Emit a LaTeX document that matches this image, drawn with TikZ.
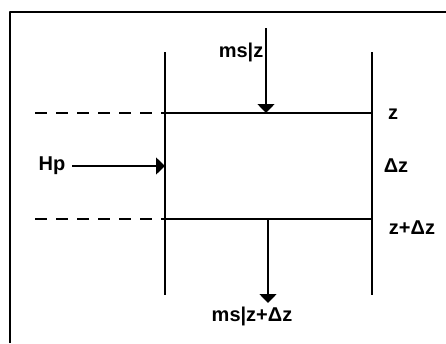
\documentclass[tikz,border=0pt]{standalone}
\usepackage{fontspec}
\setmainfont{Liberation Sans}
\usetikzlibrary{arrows.meta}
\begin{document}
\begin{tikzpicture}[x=1pt, y=-1pt, line width=1.6pt, line join=round,
  font=\fontsize{20}{22}\selectfont\bfseries, >={Triangle[width=17pt, length=9pt]}]
  \useasboundingbox (0,0) rectangle (446,343);
  % Các điểm của phần tử
  \path
  (165,52) coordinate (TL)
  (372,52) coordinate (TR)
  (165,295) coordinate (BL)
  (372,295) coordinate (BR)
  (165,113) coordinate (A)
  (372,113) coordinate (B)
  (165,219) coordinate (C)
  (372,219) coordinate (D)
  (35,113) coordinate (A0)
  (35,219) coordinate (C0);
  % Khung ngoài
  \draw[line width=2pt] (10,343) -- (10,12) -- (446,12);
  % Hai thành bên
  \draw (TL) -- (BL);
  \draw (TR) -- (BR);
  % Mặt z và z+dz
  \draw (A) -- (B);
  \draw (C) -- (D);
  \draw[dashed, dash pattern=on 12pt off 9pt] (A0) -- (A);
  \draw[dashed, dash pattern=on 12pt off 9pt] (C0) -- (C);
  % Dòng vào và ra
  \path (266,28) coordinate (T0) (266,113) coordinate (T1)
  (268,219) coordinate (U0) (268,303) coordinate (U1);
  \draw[->] (T0) -- (T1);
  \draw[->] (U0) -- (U1);
  \node (ms1) at (241,52) {ms|z};
  \node (ms2) at (252,316) {ms|z+Δz};
  % Nhiệt vào
  \node (hp) at (52,166) {Hp};
  \path (72,166) coordinate (H0) (165,166) coordinate (H1);
  \draw[->] (H0) -- (H1);
  % Tên các mặt
  \foreach \n/\p/\t in {z/{(393,114)}/z, dz/{(396,166)}/Δz, zdz/{(412,228)}/z+Δz}
  \node (\n) at \p {\t};
\end{tikzpicture}
\end{document}
